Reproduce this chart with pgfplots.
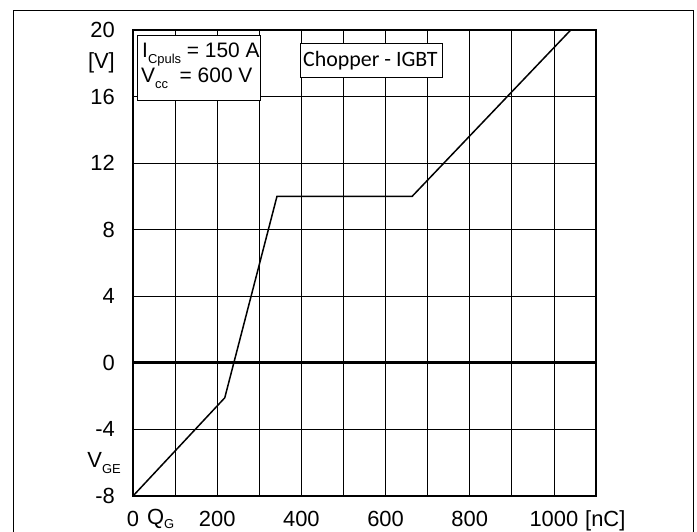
\documentclass[border=0pt]{standalone}
\usepackage{fontspec}
\setmainfont{Liberation Sans}
\newfontfamily\calib{Carlito}
\usepackage{pgfplots}
\pgfplotsset{compat=1.18}
\newcommand{\fs}{\fontsize{22}{26}\selectfont}
\newcommand{\fb}{\fontsize{21}{25}\selectfont}
\newcommand{\sub}[1]{\raisebox{-0.24em}{\fontsize{13}{14}\selectfont #1}}
\newcommand{\subq}[1]{\raisebox{-3.5bp}{\fontsize{13}{14}\selectfont #1}}
\begin{document}
\begin{tikzpicture}[x=1bp,y=1bp]
\useasboundingbox (0,0) rectangle (697,532);
\draw[line width=1bp] (13,-2) -- (13,521) -- (693,521) -- (693,-2);
\begin{axis}[at={(133bp,36bp)}, anchor=south west, scale only axis,
  width=463bp, height=466bp,
  xmin=0, xmax=1100, ymin=-8, ymax=20,
  xtick={0,100,...,1100}, xticklabels={0,,200,,400,,600,,800,,1000,},
  ytick={-8,-4,...,20},
  grid=major, major grid style={black, line width=0.8bp},
  axis line style={line width=1.6bp},
  tick style={draw=none},
  ticklabel style={font=\fs, inner sep=0pt},
  /pgf/number format/assume math mode=true,
  xticklabel style={anchor=base, yshift=-31bp},
  yticklabel style={anchor=east, xshift=-18bp},
  clip=true]
\addplot[line width=2.8bp] coordinates {(0,0) (1100,0)};
\addplot[line width=1.5bp] coordinates {(0,-8) (218,-2.1) (342,10) (663,10) (1040,20)};
\end{axis}
% axis extra labels
\node[anchor=east, font=\fs, inner sep=0] at (115,469) {[V]};
\node[anchor=base east, font=\fs, inner sep=0] at (121,64) {V\sub{GE}};
\node[anchor=base west, font=\fs, inner sep=0] at (147,7) {Q\subq{G}};
\node[anchor=base west, font=\fs, inner sep=0] at (585,5) {[nC]};
% boxes
\draw[line width=0.8bp, fill=white] (137,432) rectangle (260,497);
\node[anchor=base west, font=\fb, inner sep=0] at (142,474) {I\sub{Cpuls} = 150 A};
\node[anchor=base west, font=\fb, inner sep=0] at (141,449) {V\sub{cc}\ \ = 600 V};
\draw[line width=0.8bp, fill=white] (300,455) rectangle (442,489);
\node[anchor=base west, font=\calib\fontsize{22}{26}\selectfont, inner sep=0] at (303,465) {Chopper - IGBT};
\end{tikzpicture}
\end{document}
